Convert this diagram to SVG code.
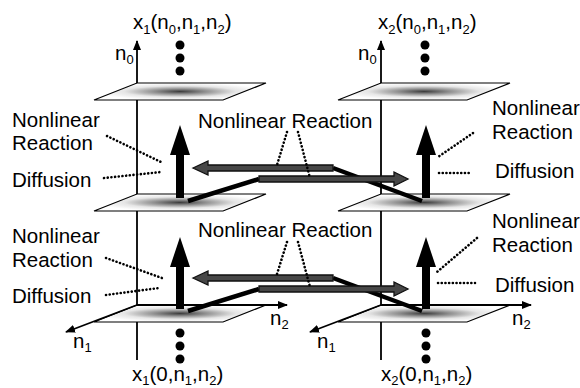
<svg xmlns="http://www.w3.org/2000/svg" width="580" height="388" viewBox="0 0 580 388">
<style>
text{font-family:"Liberation Sans",Arial,sans-serif;font-size:20.5px;fill:#000}
.sub{font-size:13px}
.axis{stroke:#000;stroke-width:1.8;fill:none}
.plane{fill:url(#pg);stroke:#000;stroke-width:1.2}
.dot{fill:#000}
.lead{stroke:#000;stroke-width:2.6;stroke-dasharray:0.1 3.6;stroke-linecap:round;fill:none}
.diag{stroke:#000;stroke-width:4.5;fill:none}
.harr{fill:#474747;stroke:#111;stroke-width:1.3;stroke-linejoin:miter}
.varr{fill:#000}
</style>
<defs>
<radialGradient id="pg" cx="0.5" cy="0.5" r="0.5">
<stop offset="0" stop-color="#3c3c3c"/>
<stop offset="0.3" stop-color="#909090"/>
<stop offset="0.65" stop-color="#e6e6e6"/>
<stop offset="1" stop-color="#ffffff"/>
</radialGradient>
<marker id="ah" viewBox="0 0 10 8" refX="9" refY="4" markerWidth="10" markerHeight="8" markerUnits="userSpaceOnUse" orient="auto">
<path d="M0,0 L10,4 L0,8 Z" fill="#000"/>
</marker>
</defs>

<g id="system-x1">
<line class="axis" x1="137" y1="360" x2="137" y2="41" marker-end="url(#ah)"/>
<polygon class="plane" points="137,83 266,83 223,100 94,100"/>
<polygon class="plane" points="137,194 266,194 223,211 94,211"/>
<polygon class="plane" points="137,305 266,305 223,322 94,322"/>
<line class="axis" x1="137" y1="305" x2="287" y2="305" marker-end="url(#ah)"/>
<line class="axis" x1="137" y1="305" x2="66" y2="332" marker-end="url(#ah)"/>
<circle class="dot" cx="180" cy="45" r="4.5"/>
<circle class="dot" cx="180" cy="58" r="4.5"/>
<circle class="dot" cx="180" cy="71" r="4.5"/>
<circle class="dot" cx="180" cy="333" r="4.5"/>
<circle class="dot" cx="180" cy="346" r="4.5"/>
<circle class="dot" cx="180" cy="359" r="4.5"/>
<text x="133" y="29">x<tspan class="sub" dy="5">1</tspan><tspan dy="-5">(n</tspan><tspan class="sub" dy="5">0</tspan><tspan dy="-5">,n</tspan><tspan class="sub" dy="5">1</tspan><tspan dy="-5">,n</tspan><tspan class="sub" dy="5">2</tspan><tspan dy="-5">)</tspan></text>
<text x="132" y="381">x<tspan class="sub" dy="4">1</tspan><tspan dy="-4">(0,n</tspan><tspan class="sub" dy="4">1</tspan><tspan dy="-4">,n</tspan><tspan class="sub" dy="4">2</tspan><tspan dy="-4">)</tspan></text>
<text x="115" y="60">n<tspan class="sub" dy="4">0</tspan></text>
<text x="270" y="325">n<tspan class="sub" dy="4">2</tspan></text>
<text x="73" y="348">n<tspan class="sub" dy="4">1</tspan></text>
</g>

<g id="system-x2">
<line class="axis" x1="381" y1="360" x2="381" y2="41" marker-end="url(#ah)"/>
<polygon class="plane" points="381,83 510,83 467,100 338,100"/>
<polygon class="plane" points="381,194 510,194 467,211 338,211"/>
<polygon class="plane" points="381,305 510,305 467,322 338,322"/>
<line class="axis" x1="381" y1="305" x2="531" y2="305" marker-end="url(#ah)"/>
<line class="axis" x1="381" y1="305" x2="310" y2="332" marker-end="url(#ah)"/>
<circle class="dot" cx="425" cy="45" r="4.5"/>
<circle class="dot" cx="425" cy="58" r="4.5"/>
<circle class="dot" cx="425" cy="71" r="4.5"/>
<circle class="dot" cx="426" cy="333" r="4.5"/>
<circle class="dot" cx="426" cy="346" r="4.5"/>
<circle class="dot" cx="426" cy="359" r="4.5"/>
<text x="378" y="29">x<tspan class="sub" dy="5">2</tspan><tspan dy="-5">(n</tspan><tspan class="sub" dy="5">0</tspan><tspan dy="-5">,n</tspan><tspan class="sub" dy="5">1</tspan><tspan dy="-5">,n</tspan><tspan class="sub" dy="5">2</tspan><tspan dy="-5">)</tspan></text>
<text x="381" y="381">x<tspan class="sub" dy="4">2</tspan><tspan dy="-4">(0,n</tspan><tspan class="sub" dy="4">1</tspan><tspan dy="-4">,n</tspan><tspan class="sub" dy="4">2</tspan><tspan dy="-4">)</tspan></text>
<text x="358" y="60">n<tspan class="sub" dy="4">0</tspan></text>
<text x="512" y="325">n<tspan class="sub" dy="4">2</tspan></text>
<text x="317" y="348">n<tspan class="sub" dy="4">1</tspan></text>
</g>

<g id="connectors">
<line class="diag" x1="333" y1="168" x2="422" y2="201"/>
<line class="diag" x1="259" y1="179" x2="188" y2="201"/>
<line class="diag" x1="333" y1="278" x2="422" y2="311"/>
<line class="diag" x1="259" y1="289" x2="188" y2="311"/>
<polygon class="harr" points="193,168 208,161 208,165 333,165 333,171 208,171 208,175"/>
<polygon class="harr" points="259,176 394,176 394,172 408,179 394,186 394,182 259,182"/>
<polygon class="harr" points="193,278 208,271 208,275 333,275 333,281 208,281 208,285"/>
<polygon class="harr" points="259,286 394,286 394,282 408,289 394,296 394,292 259,292"/>
<polygon class="varr" points="180,125 190,155 184,155 184,198 176,198 176,155 170,155"/>
<polygon class="varr" points="180,237 190,267 184,267 184,309 176,309 176,267 170,267"/>
<polygon class="varr" points="426,125 436,155 430,155 430,198 422,198 422,155 416,155"/>
<polygon class="varr" points="426,237 436,267 430,267 430,309 422,309 422,267 416,267"/>
<path class="lead" d="M107,136 L163,163 M104,178 L161,172"/>
<path class="lead" d="M106,258 L162,278 M106,295 L159,288"/>
<path class="lead" d="M473,133 L438,157 M439,173 L472,173"/>
<path class="lead" d="M477,238 L437,272 M438,283 L475,283"/>
<path class="lead" d="M287,132 L277,165 M298,132 L310,178"/>
<path class="lead" d="M287,242 L277,274 M298,242 L310,287"/>
</g>

<g id="labels">
<text x="12" y="127">Nonlinear</text>
<text x="12" y="150">Reaction</text>
<text x="12" y="187">Diffusion</text>
<text x="12" y="243">Nonlinear</text>
<text x="12" y="267">Reaction</text>
<text x="12" y="303">Diffusion</text>
<text x="492" y="115">Nonlinear</text>
<text x="492" y="139">Reaction</text>
<text x="495" y="178">Diffusion</text>
<text x="492" y="228">Nonlinear</text>
<text x="492" y="252">Reaction</text>
<text x="495" y="292">Diffusion</text>
<text x="198" y="128">Nonlinear Reaction</text>
<text x="198" y="237">Nonlinear Reaction</text>
</g>
</svg>
